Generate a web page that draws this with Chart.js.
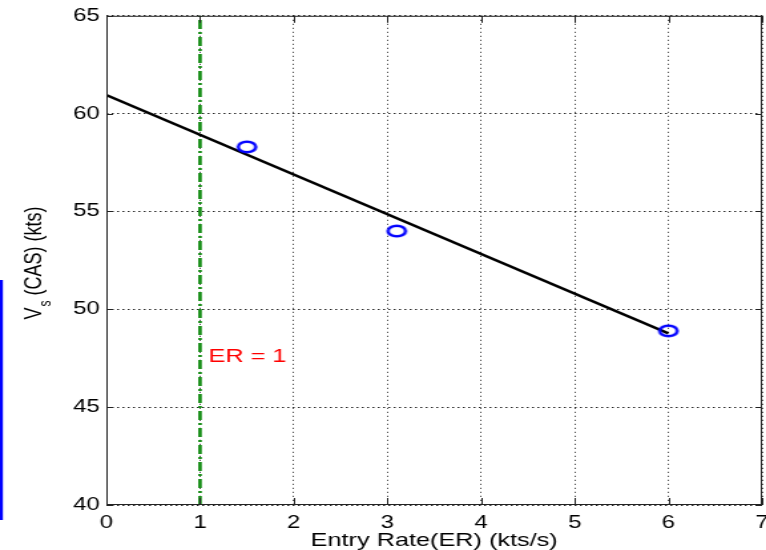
<!DOCTYPE html>
<html>
<head>
<meta charset="utf-8">
<script src="https://cdn.jsdelivr.net/npm/chart.js@4.4.1/dist/chart.umd.min.js"></script>
<style>
  html, body { margin: 0; padding: 0; background: #fff; overflow: hidden; }
  /* the source figure is stretched sideways, so draw narrow and widen;
     the right edge runs a little past the window, as in the source */
  #wrap { width: 582px; height: 550px; transform: scale(1.3299, 1); transform-origin: 0 0; }
</style>
</head>
<body>
<div id="wrap"><canvas id="chart" width="582" height="550"></canvas></div>
<script>
// measured points
const entryRate = [1.5, 3.1, 6.0];
const stallSpeed = [58.3, 54.0, 48.9];
// fitted line end points
const fitX = [0, 6];
const fitY = [60.95, 48.77];
// ER = 1 marker line
const erX = [1, 1];
const erY = [40, 65];
const xTicks = [0, 1, 2, 3, 4, 5, 6, 7];
const yTicks = [40, 45, 50, 55, 60, 65];
const noteText = 'ER = 1';
const notePos = [1.09, 47.6];
const xTitle = 'Entry Rate(ER) (kts/s)';

const FONT = "'Liberation Sans', Arial, sans-serif";

// open ellipse marker
function ringMarker() {
    const c = document.createElement('canvas');
    c.width = 20; c.height = 16;
    const g = c.getContext('2d');
    g.strokeStyle = '#0000ff';
    g.lineWidth = 2.5;
    g.beginPath();
    g.ellipse(10, 8, 6.6, 5.2, 0, 0, Math.PI * 2);
    g.stroke();
    return c;
}

const decor = {
    id: 'decor',
    afterDraw(chart) {
        const ctx = chart.ctx;
        const a = chart.chartArea;
        const xs = chart.scales.x, ys = chart.scales.y;
        ctx.save();

        // frame
        ctx.strokeStyle = '#222';
        ctx.lineWidth = 1;
        ctx.strokeRect(a.left + 0.5, a.top + 0.5, a.right - a.left - 1, a.bottom - a.top - 1);

        // inner tick marks on all four sides
        ctx.beginPath();
        xTicks.forEach(v => {
            const px = Math.round(xs.getPixelForValue(v)) + 0.5;
            ctx.moveTo(px, a.bottom); ctx.lineTo(px, a.bottom - 7);
            ctx.moveTo(px, a.top); ctx.lineTo(px, a.top + 7);
        });
        yTicks.forEach(v => {
            const py = Math.round(ys.getPixelForValue(v)) + 0.5;
            ctx.moveTo(a.left, py); ctx.lineTo(a.left + 5, py);
            ctx.moveTo(a.right, py); ctx.lineTo(a.right - 5, py);
        });
        ctx.stroke();

        // red note
        ctx.fillStyle = '#ff0000';
        ctx.font = '19px ' + FONT;
        ctx.textAlign = 'left';
        ctx.textBaseline = 'middle';
        ctx.fillText(noteText, xs.getPixelForValue(notePos[0]), ys.getPixelForValue(notePos[1]));

        // x axis title (cut off by the canvas edge as in the source)
        ctx.fillStyle = '#000';
        ctx.font = '19px ' + FONT;
        ctx.textAlign = 'center';
        ctx.textBaseline = 'top';
        ctx.fillText(xTitle, (a.left + a.right) / 2, a.bottom + 26);

        // y axis title with subscript
        ctx.translate(26, (a.top + a.bottom) / 2 + 3);
        ctx.rotate(-Math.PI / 2);
        ctx.textAlign = 'left';
        ctx.textBaseline = 'middle';
        const big = '18px ' + FONT, small = '12px ' + FONT;
        ctx.font = big;
        const wV = ctx.measureText('V').width;
        const wRest = ctx.measureText(' (CAS) (kts)').width;
        ctx.font = small;
        const wS = ctx.measureText('s').width;
        let x0 = -(wV + wS + wRest) / 2;
        ctx.font = big;
        ctx.fillText('V', x0, 0);
        ctx.font = small;
        ctx.fillText('s', x0 + wV + 1, 9);
        ctx.font = big;
        ctx.fillText(' (CAS) (kts)', x0 + wV + wS + 1, 0);
        ctx.restore();

        // stray blue bar at the left edge of the source image
        ctx.save();
        ctx.fillStyle = '#0000ff';
        ctx.fillRect(0, 280, 2.2, 240);
        ctx.restore();
    }
};

new Chart(document.getElementById('chart'), {
    type: 'scatter',
    data: {
        datasets: [
            {
                data: entryRate.map((x, i) => ({ x: x, y: stallSpeed[i] })),
                pointStyle: ringMarker(),
                pointRadius: 8,
                showLine: false,
                order: 0
            },
            {
                data: fitX.map((x, i) => ({ x: x, y: fitY[i] })),
                showLine: true,
                borderColor: '#000',
                borderWidth: 2.4,
                pointRadius: 0,
                order: 1
            },
            {
                data: erX.map((x, i) => ({ x: x, y: erY[i] })),
                showLine: true,
                borderColor: '#108a10',
                borderWidth: 2.6,
                borderDash: [9, 3, 2, 3],
                pointRadius: 0,
                order: 2
            }
        ]
    },
    options: {
        responsive: false,
        animation: false,
        layout: { padding: { top: 14, right: 0, left: 0, bottom: 0 } },
        plugins: { legend: { display: false }, tooltip: { enabled: false } },
        scales: {
            x: {
                type: 'linear',
                min: 0, max: 7,
                afterBuildTicks: s => { s.ticks = xTicks.map(v => ({ value: v })); },
                afterFit: s => { s.height = 45; },
                grid: { color: 'rgba(0,0,0,0.85)', lineWidth: 1, drawTicks: true, tickLength: 7, tickColor: 'rgba(0,0,0,0)' },
                border: { display: false, dash: [1, 3] },
                ticks: { font: { family: FONT, size: 18 }, color: '#000', padding: 0, maxRotation: 0 }
            },
            y: {
                type: 'linear',
                min: 40, max: 65,
                afterBuildTicks: s => { s.ticks = yTicks.map(v => ({ value: v })); },
                afterFit: s => { s.width = 80; },
                grid: { color: 'rgba(0,0,0,0.85)', lineWidth: 1, drawTicks: false },
                border: { display: false, dash: [1.5, 2.5] },
                ticks: { font: { family: FONT, size: 18 }, color: '#000', padding: 5 }
            }
        }
    },
    plugins: [decor]
});
</script>
</body>
</html>
